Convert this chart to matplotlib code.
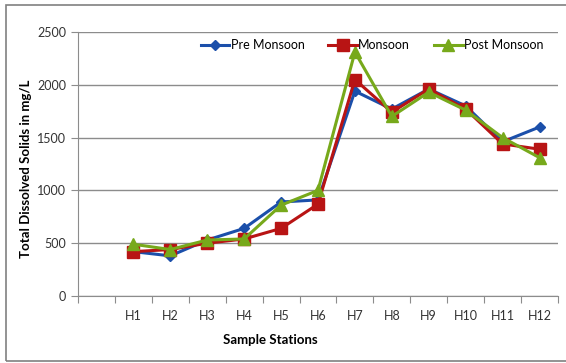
import matplotlib.pyplot as plt
from matplotlib.patches import Rectangle

# Daten
stations = ["", "H1", "H2", "H3", "H4", "H5", "H6", "H7", "H8", "H9", "H10", "H11", "H12"]
pre_monsoon = [420, 380, 530, 640, 890, 910, 1940, 1770, 1960, 1800, 1460, 1600]
monsoon = [420, 440, 500, 540, 640, 870, 2050, 1740, 1960, 1770, 1440, 1390]
post_monsoon = [490, 440, 530, 540, 860, 1000, 2310, 1700, 1930, 1760, 1500, 1310]

plt.rcParams['font.family'] = ['Lato', 'DejaVu Sans']

fig = plt.figure(figsize=(5.66, 3.63), dpi=100)
ax = fig.add_axes([0.1378, 0.1846, 0.848, 0.7273])

# Rahmen um das ganze Diagramm
fig.patches.append(Rectangle((0.0106, 0.0055), 1.2, 0.981, transform=fig.transFigure,
                             fill=False, edgecolor='#808080', linewidth=1.2))

x = list(range(1, len(stations)))
ax.plot(x, pre_monsoon, color='#1B4FAA', marker='D', markersize=5, linewidth=2.2,
        label='Pre Monsoon', zorder=3)
ax.plot(x, monsoon, color='#B81414', marker='s', markersize=8, linewidth=2.2,
        label='Monsoon', zorder=4)
ax.plot(x, post_monsoon, color='#77A91B', marker='^', markersize=8, linewidth=2.2,
        label='Post Monsoon', zorder=5)

ax.set_xlim(-0.5, len(stations) - 0.5)
ax.set_ylim(0, 2500)
ax.set_yticks(range(0, 2501, 500))
ax.yaxis.grid(True, color='#8c8c8c', linewidth=1)
ax.set_axisbelow(True)

# Kategorienachse: Striche zwischen den Kategorien, Beschriftung in der Mitte
ax.set_xticks([i - 0.5 for i in range(len(stations) + 1)])
ax.set_xticklabels([])
ax.set_xticks(range(len(stations)), minor=True)
ax.set_xticklabels(stations, minor=True)
ax.tick_params(axis='x', which='major', length=5, color='#8c8c8c', direction='out')
ax.tick_params(axis='x', which='minor', length=0, pad=10, labelsize=9, labelcolor='#333333')
ax.tick_params(axis='y', length=5, color='#8c8c8c', labelsize=9, labelcolor='#333333')

for side in ['top', 'right']:
    ax.spines[side].set_visible(False)
for side in ['left', 'bottom']:
    ax.spines[side].set_color('#8c8c8c')

ax.set_xlabel("Sample Stations", fontweight='bold', fontsize=9.5)
ax.xaxis.set_label_coords(0.40, -0.145)
ax.set_ylabel("Total Dissolved Solids in mg/L", fontweight='bold', fontsize=9.5)
ax.yaxis.set_label_coords(-0.095, 0.48)

ax.legend(loc='upper right', ncol=3, frameon=False, fontsize=9, handlelength=2.3,
          handletextpad=0.1, columnspacing=1.9, borderaxespad=0.2, bbox_to_anchor=(0.985, 1.0))

fig.savefig("out.png", dpi=100)
